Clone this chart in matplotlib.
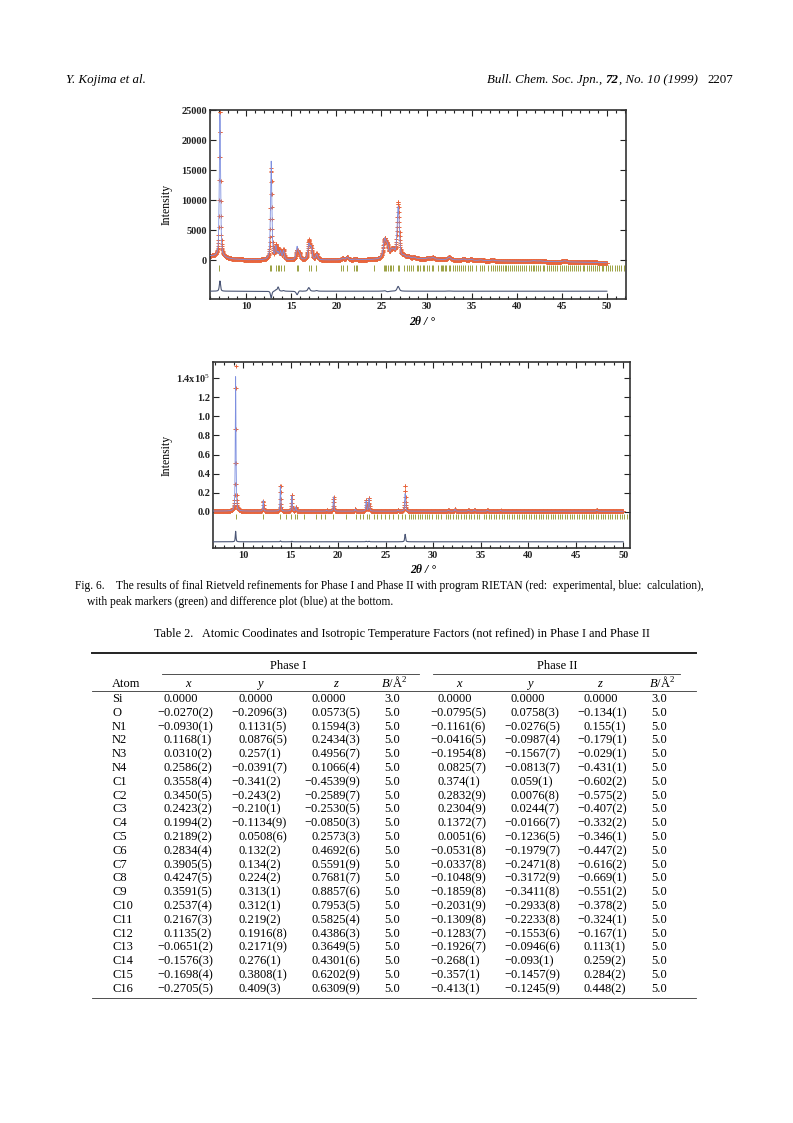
import numpy as np
import matplotlib.pyplot as plt
from matplotlib.ticker import MultipleLocator
from matplotlib.font_manager import FontProperties

plt.rcParams['font.family'] = ['Liberation Serif', 'DejaVu Serif']
plt.rcParams['mathtext.fontset'] = 'custom'
plt.rcParams['mathtext.rm'] = 'Liberation Serif'
plt.rcParams['mathtext.it'] = 'Liberation Serif:italic'
plt.rcParams['mathtext.bf'] = 'Liberation Serif:bold'

# ---------------- Phase I pattern ----------------
p1_pos = [7.10, 12.78, 13.30, 13.55, 13.82, 14.15, 15.65, 15.90, 16.95, 17.20,
          17.82, 20.70, 21.20, 22.10, 25.35, 25.65, 26.10, 26.35, 26.85, 27.50,
          28.00, 28.60, 30.20, 30.70, 32.50, 34.10, 34.90, 36.00, 37.30, 41.90,
          42.60, 45.30]
p1_obs = [25500, 15300, 2200, 1700, 1300, 1600, 1500, 1100, 3100, 2000,
          1000, 250, 430, 120, 3100, 1800, 1100, 1000, 9300, 330,
          280, 200, 180, 280, 450, 200, 180, 130, 130, 130,
          110, 180]
p1_calc = [23800, 16400, 2000, 1000, 1300, 1500, 2100, 1000, 2500, 2000,
           900, 250, 430, 120, 3000, 1900, 1100, 1000, 8500, 330,
           280, 200, 180, 280, 420, 200, 180, 130, 130, 130,
           110, 180]
p1_fwhm = [0.16, 0.18, 0.20, 0.20, 0.20, 0.20, 0.25, 0.25, 0.25, 0.25,
           0.25, 0.30, 0.30, 0.30, 0.35, 0.35, 0.30, 0.30, 0.28, 0.35,
           0.35, 0.35, 0.40, 0.40, 0.40, 0.40, 0.40, 0.40, 0.40, 0.50,
           0.50, 0.50]
p1_bg_tt = [6.0, 6.5, 7.5, 8.5, 10, 12, 20, 24, 27, 29, 32, 36, 40, 45, 50]
p1_bg = [650, 600, 400, 150, 30, 0, 0, 50, 300, 200, 50, -100, -200, -300, -450]
p1_diff_offset = -5200
p1_refl = [7.05, 12.66, 12.80, 13.30, 13.52, 13.70, 13.85, 14.18, 15.62, 15.80,
           16.92, 17.18, 17.80, 20.55, 20.72, 21.22, 21.95, 22.15, 22.32, 24.20,
           25.30, 25.42, 25.55, 25.72, 26.00, 26.10, 26.32, 26.80, 26.95, 27.55,
           27.80, 28.05, 28.25, 28.55, 28.90, 29.10, 29.30, 29.60, 29.75, 30.10,
           30.30, 30.55, 30.75, 31.25, 31.55, 31.70, 31.85, 32.05, 32.20, 32.45,
           32.60, 32.90, 33.10, 33.35, 33.60, 33.85, 34.05, 34.30, 34.55, 34.80,
           35.00, 35.45, 35.90, 36.10, 36.35, 36.80, 37.15, 37.35, 37.55, 37.80,
           38.00, 38.20, 38.45, 38.70, 38.85, 39.05, 39.30, 39.50, 39.70, 39.95,
           40.15, 40.35, 40.60, 40.80, 41.00, 41.30, 41.55, 41.75, 41.95, 42.15,
           42.40, 42.60, 42.85, 43.05, 43.30, 43.55, 43.75, 44.00, 44.25, 44.50,
           44.75, 45.00, 45.20, 45.40, 45.65, 45.90, 46.10, 46.35, 46.60, 46.80,
           47.05, 47.30, 47.50, 47.75, 48.00, 48.20, 48.45, 48.70, 48.90, 49.15,
           49.40, 49.60, 49.85, 50.10, 50.35, 50.60, 50.85, 51.10, 51.35, 51.60,
           51.85]

# ---------------- Phase II pattern ----------------
p2_pos = [9.22, 12.12, 13.93, 15.13, 15.55, 18.80, 19.52, 21.80, 22.95, 23.25,
          26.30, 27.05, 31.60, 32.30, 33.70, 34.35, 35.70, 37.10, 47.20]
p2_obs = [152000, 11000, 28000, 17000, 4500, 1000, 15000, 2000, 11500, 14000,
          1200, 27000, 1200, 2000, 1200, 1500, 1200, 800, 1200]
p2_calc = [141000, 11000, 27000, 16500, 4500, 1000, 15000, 2000, 11000, 13500,
           1200, 19000, 1200, 2000, 1200, 1500, 1200, 800, 1200]
p2_fwhm = [0.09, 0.09, 0.09, 0.10, 0.10, 0.10, 0.10, 0.10, 0.11, 0.11,
           0.11, 0.11, 0.12, 0.12, 0.12, 0.12, 0.13, 0.13, 0.15]
p2_bg_tt = [6.8, 20, 35, 50]
p2_bg = [700, 600, 550, 500]
p2_diff_offset = -31500
p2_refl = [9.23, 12.05, 13.88, 14.50, 15.00, 15.42, 15.65, 16.45, 17.70, 18.20,
           18.60, 19.45, 20.80, 21.90, 22.25, 22.60, 23.00, 23.30, 23.75, 24.10,
           24.50, 24.95, 25.35, 25.80, 26.30, 26.75, 27.05, 27.45, 27.70, 27.90,
           28.10, 28.35, 28.60, 28.85, 29.10, 29.30, 29.60, 29.85, 30.30, 30.55,
           30.85, 31.30, 31.55, 31.80, 32.10, 32.35, 32.65, 32.95, 33.20, 33.45,
           33.75, 34.00, 34.30, 34.60, 34.85, 35.30, 35.60, 35.85, 36.10, 36.40,
           36.65, 36.90, 37.20, 37.45, 37.75, 38.00, 38.30, 38.55, 38.80, 39.05,
           39.30, 39.55, 39.80, 40.05, 40.30, 40.60, 40.85, 41.10, 41.35, 41.60,
           41.85, 42.10, 42.35, 42.60, 42.85, 43.10, 43.35, 43.60, 43.85, 44.10,
           44.35, 44.60, 44.85, 45.10, 45.35, 45.60, 45.85, 46.10, 46.35, 46.60,
           46.85, 47.10, 47.35, 47.60, 47.85, 48.10, 48.35, 48.60, 48.85, 49.10,
           49.35, 49.60, 49.85, 50.10, 50.35, 50.60]

p1_yticks = [0, 5000, 10000, 15000, 20000, 25000]
p1_ylabels = ['0', '5000', '10000', '15000', '20000', '25000']
p2_yticks = [0, 20000, 40000, 60000, 80000, 100000, 120000, 140000]
p2_ylabels = ['0.0', '0.2', '0.4', '0.6', '0.8', '1.0', '1.2', r'1.4x10$^5$']

# ---------------- Table 2 ----------------
atoms = ['Si', 'O', 'N1', 'N2', 'N3', 'N4', 'C1', 'C2', 'C3', 'C4', 'C5',
         'C6', 'C7', 'C8', 'C9', 'C10', 'C11', 'C12', 'C13', 'C14', 'C15', 'C16']
p1_x = ['0.0000', '−0.0270(2)', '−0.0930(1)', '0.1168(1)', '0.0310(2)', '0.2586(2)',
        '0.3558(4)', '0.3450(5)', '0.2423(2)', '0.1994(2)', '0.2189(2)', '0.2834(4)',
        '0.3905(5)', '0.4247(5)', '0.3591(5)', '0.2537(4)', '0.2167(3)', '0.1135(2)',
        '−0.0651(2)', '−0.1576(3)', '−0.1698(4)', '−0.2705(5)']
p1_y = ['0.0000', '−0.2096(3)', '0.1131(5)', '0.0876(5)', '0.257(1)', '−0.0391(7)',
        '−0.341(2)', '−0.243(2)', '−0.210(1)', '−0.1134(9)', '0.0508(6)', '0.132(2)',
        '0.134(2)', '0.224(2)', '0.313(1)', '0.312(1)', '0.219(2)', '0.1916(8)',
        '0.2171(9)', '0.276(1)', '0.3808(1)', '0.409(3)']
p1_z = ['0.0000', '0.0573(5)', '0.1594(3)', '0.2434(3)', '0.4956(7)', '0.1066(4)',
        '−0.4539(9)', '−0.2589(7)', '−0.2530(5)', '−0.0850(3)', '0.2573(3)', '0.4692(6)',
        '0.5591(9)', '0.7681(7)', '0.8857(6)', '0.7953(5)', '0.5825(4)', '0.4386(3)',
        '0.3649(5)', '0.4301(6)', '0.6202(9)', '0.6309(9)']
p1_b = ['3.0'] + ['5.0'] * 21
p2_x = ['0.0000', '−0.0795(5)', '−0.1161(6)', '−0.0416(5)', '−0.1954(8)', '0.0825(7)',
        '0.374(1)', '0.2832(9)', '0.2304(9)', '0.1372(7)', '0.0051(6)', '−0.0531(8)',
        '−0.0337(8)', '−0.1048(9)', '−0.1859(8)', '−0.2031(9)', '−0.1309(8)', '−0.1283(7)',
        '−0.1926(7)', '−0.268(1)', '−0.357(1)', '−0.413(1)']
p2_y = ['0.0000', '0.0758(3)', '−0.0276(5)', '−0.0987(4)', '−0.1567(7)', '−0.0813(7)',
        '0.059(1)', '0.0076(8)', '0.0244(7)', '−0.0166(7)', '−0.1236(5)', '−0.1979(7)',
        '−0.2471(8)', '−0.3172(9)', '−0.3411(8)', '−0.2933(8)', '−0.2233(8)', '−0.1553(6)',
        '−0.0946(6)', '−0.093(1)', '−0.1457(9)', '−0.1245(9)']
p2_z = ['0.0000', '−0.134(1)', '0.155(1)', '−0.179(1)', '−0.029(1)', '−0.431(1)',
        '−0.602(2)', '−0.575(2)', '−0.407(2)', '−0.332(2)', '−0.346(1)', '−0.447(2)',
        '−0.616(2)', '−0.669(1)', '−0.551(2)', '−0.378(2)', '−0.324(1)', '−0.167(1)',
        '0.113(1)', '0.259(2)', '0.284(2)', '0.448(2)']
p2_b = ['3.0'] + ['5.0'] * 21
col_heads = ['$x$', '$y$', '$z$', r'$B$/Å$^2$'] * 2

# ---------------- page ----------------
W, H = 793, 1123
fig = plt.figure(figsize=(W / 100, H / 100), dpi=100)


def fx(px):
    return px / W


def fy(py):
    return 1 - py / H


def profile(tt, pos, height, fwhm, eta=0.6):
    y = np.zeros_like(tt)
    for p, h, w in zip(pos, height, fwhm):
        d = 2 * (tt - p) / w
        y += h * (eta / (1 + d ** 2) + (1 - eta) * np.exp(-np.log(2) * d ** 2))
    return y


def rietveld(box, tt, obs, calc, diff, refl, refl_y, xlim, ylim, yticks, ylabels):
    l, t, r, b = box
    ax = fig.add_axes([fx(l), fy(b), (r - l) / W, (b - t) / H])
    ax.plot(tt, obs, ls='none', marker='+', ms=3, mew=0.7, color='#e8653d', zorder=2)
    ax.plot(tt, calc, color='#7d8fe0', lw=0.6, zorder=3)
    ax.plot(tt, diff, color='#4a5575', lw=0.8, zorder=3)
    ax.vlines(refl, refl_y[0], refl_y[1], color='#9aa142', lw=0.7)
    ax.set_xlim(*xlim)
    ax.set_ylim(*ylim)
    ax.xaxis.set_major_locator(MultipleLocator(5))
    ax.xaxis.set_minor_locator(MultipleLocator(1))
    ax.set_yticks(yticks)
    ax.set_yticklabels(ylabels)
    ax.tick_params(which='both', direction='in', top=True, right=True, width=0.8,
                   labelsize=7.5, pad=2, colors='#222222')
    ax.tick_params(which='major', length=4)
    ax.tick_params(which='minor', length=2.5)
    for s in ax.spines.values():
        s.set_linewidth(1.2)
        s.set_color('#333333')
    for lab in ax.get_xticklabels() + ax.get_yticklabels():
        lab.set_fontweight('bold')
    return ax


# Phase I
tt1 = np.arange(6.0, 50.0, 0.02)
bg1 = np.interp(tt1, p1_bg_tt, p1_bg)
obs1 = bg1 + profile(tt1, p1_pos, p1_obs, p1_fwhm)
calc1 = bg1 + profile(tt1, p1_pos, p1_calc, p1_fwhm)
rietveld((210, 110, 626, 299), tt1, obs1, calc1, obs1 - calc1 + p1_diff_offset,
         p1_refl, (-900, -1850), (6.0, 52.1), (-6500, 25000), p1_yticks, p1_ylabels)
fig.text(fx(167), fy(204), 'Intensity', rotation=90, ha='center', va='center', fontsize=8.5)
fig.text(fx(422), fy(322), '2θ / °', ha='center', va='center', fontsize=8.5,
         fontweight='bold', fontstyle='italic')

# Phase II
tt2 = np.arange(6.9, 50.0, 0.02)
bg2 = np.interp(tt2, p2_bg_tt, p2_bg)
obs2 = bg2 + profile(tt2, p2_pos, p2_obs, p2_fwhm)
calc2 = bg2 + profile(tt2, p2_pos, p2_calc, p2_fwhm)
rietveld((213, 362, 630, 548), tt2, obs2, calc2, obs2 - calc2 + p2_diff_offset,
         p2_refl, (-2500, -8000), (6.84, 50.7), (-38000, 157000), p2_yticks, p2_ylabels)
fig.text(fx(167), fy(455), 'Intensity', rotation=90, ha='center', va='center', fontsize=8.5)
fig.text(fx(423), fy(570), '2θ / °', ha='center', va='center', fontsize=8.5,
         fontweight='bold', fontstyle='italic')

# running head
fig.text(fx(66), fy(83), 'Y. Kojima et al.', fontsize=9.3, fontstyle='italic', va='baseline')
fig.canvas.draw()
rend = fig.canvas.get_renderer()
head = [('Bull. Chem. Soc. Jpn., ', 'italic', 'normal'), ('72', 'italic', 'bold'),
        (', No. 10 (1999)   ', 'italic', 'normal'), ('2207', 'normal', 'normal')]
xr = 733
for txt, st, wt in reversed(head):
    t = fig.text(fx(xr), fy(83), txt, fontsize=9.3, fontstyle=st, fontweight=wt,
                 ha='right', va='baseline')
    xr = t.get_window_extent(rend).x0

# caption
fig.text(fx(75), fy(589), 'Fig. 6.    The results of final Rietveld refinements for Phase I and Phase II '
         'with program RIETAN (red:  experimental, blue:  calculation),', fontsize=8.3, va='baseline')
fig.text(fx(87), fy(605), 'with peak markers (green) and difference plot (blue) at the bottom.',
         fontsize=8.3, va='baseline')

# table
fs = 9
fig.text(fx(402), fy(637), 'Table 2.   Atomic Coodinates and Isotropic Temperature Factors '
         '(not refined) in Phase I and Phase II', fontsize=8.8, va='baseline', ha='center')
fig.add_artist(plt.Line2D([fx(92), fx(696)], [fy(653), fy(653)], lw=1.4, color='#222222'))
fig.add_artist(plt.Line2D([fx(162), fx(419)], [fy(674), fy(674)], lw=0.6, color='#333333'))
fig.add_artist(plt.Line2D([fx(433), fx(680)], [fy(674), fy(674)], lw=0.6, color='#333333'))
fig.add_artist(plt.Line2D([fx(92), fx(696)], [fy(691), fy(691)], lw=0.6, color='#333333'))
fig.text(fx(288), fy(669), 'Phase I', ha='center', va='baseline', fontsize=fs)
fig.text(fx(557), fy(669), 'Phase II', ha='center', va='baseline', fontsize=fs)
fig.text(fx(112), fy(687), 'Atom', ha='left', va='baseline', fontsize=fs)
head_x = [189, 260, 336, 394, 460, 530, 600, 662]
for hx, ht in zip(head_x, col_heads):
    fig.text(fx(hx), fy(687), ht, ha='center', va='baseline', fontsize=fs)

prop = FontProperties(family='Liberation Serif', size=fs)
dec_x = [170, 244, 317, 390, 443, 517, 590, 657]
cols = [p1_x, p1_y, p1_z, p1_b, p2_x, p2_y, p2_z, p2_b]
row0, dy = 702, 13.8
for i, atom in enumerate(atoms):
    yb = round(row0 + i * dy)
    fig.text(fx(112), fy(yb), atom, ha='left', va='baseline', fontsize=fs)
    for xd, col in zip(dec_x, cols):
        s = col[i]
        lead = s.split('.', 1)[0]
        w = rend.get_text_width_height_descent(lead, prop, ismath=False)[0]
        fig.text(fx(round(xd - w)), fy(yb), s, ha='left', va='baseline', fontsize=fs)
ybot = round(row0 + (len(atoms) - 1) * dy) + 6
fig.add_artist(plt.Line2D([fx(92), fx(696)], [fy(ybot), fy(ybot)], lw=0.6, color='#333333'))

fig.savefig('out.png', dpi=100)
